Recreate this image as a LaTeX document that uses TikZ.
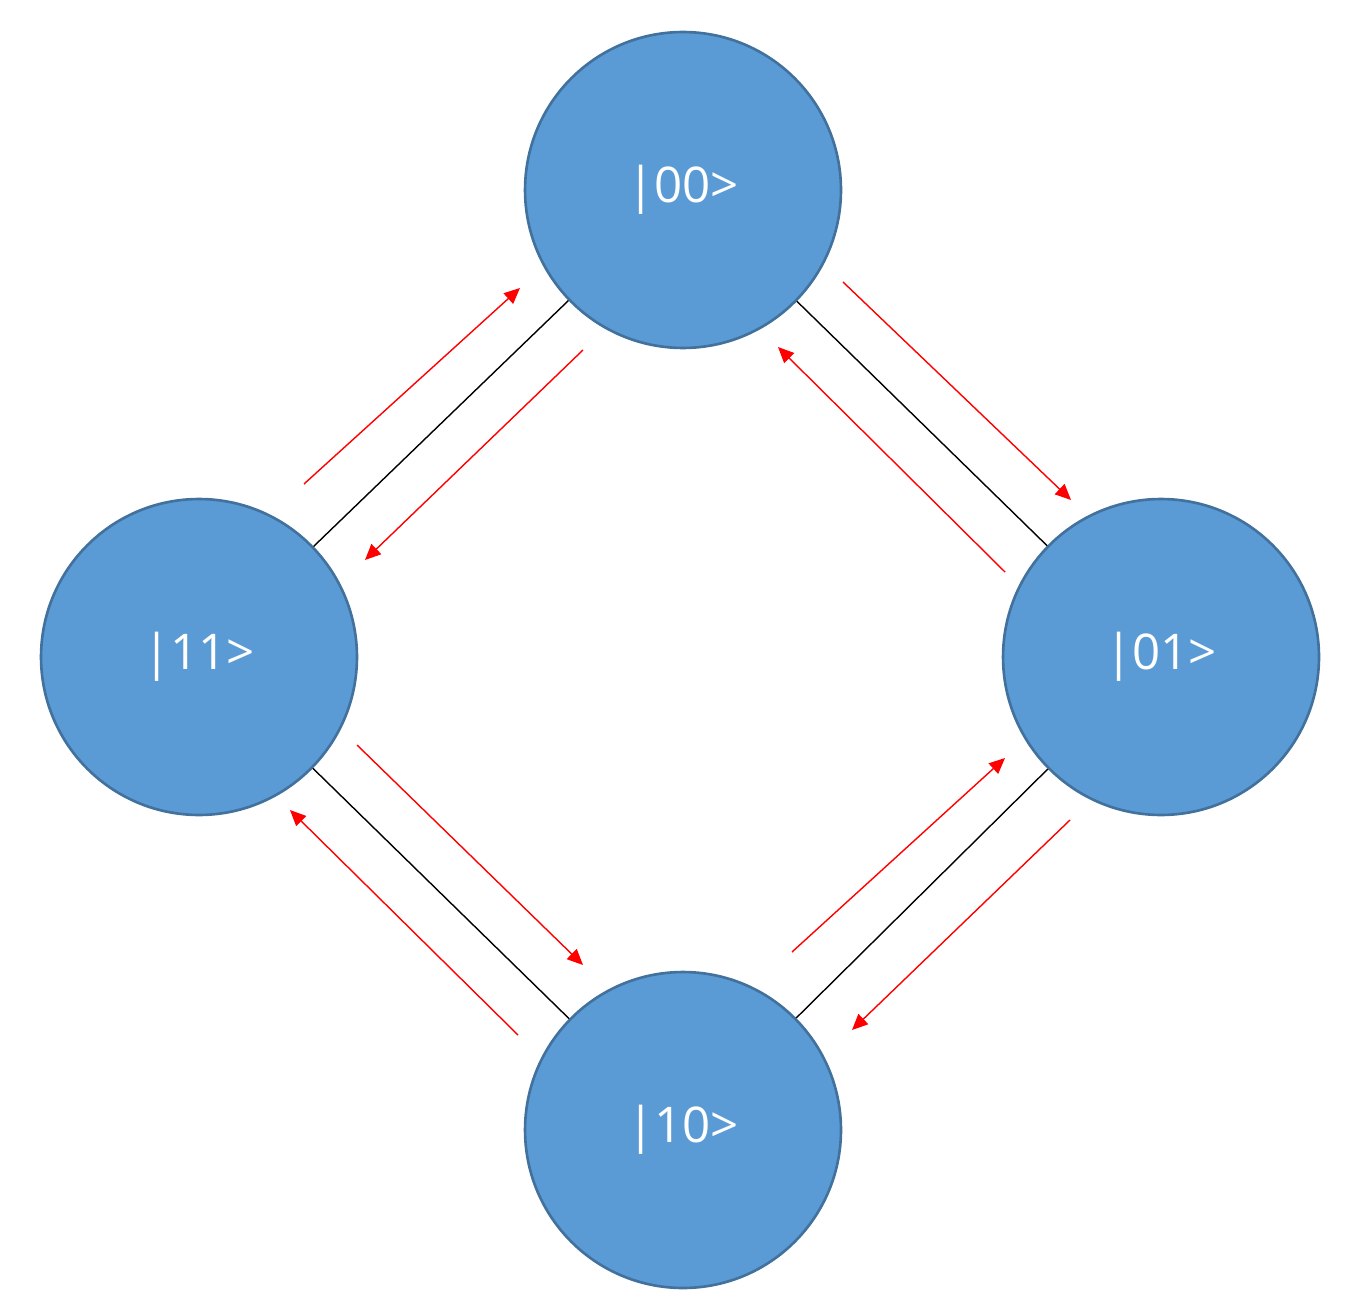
\documentclass[tikz,border=0pt]{standalone}
\usepackage{fontspec}
\setmainfont{Open Sans}
\usetikzlibrary{arrows.meta}
\definecolor{fillb}{HTML}{5B9BD5}
\definecolor{edgeb}{HTML}{41719C}
\tikzset{
  state/.style={circle, fill=fillb, draw=edgeb, line width=1.5pt, minimum size=6.32cm, inner sep=0pt, text=white, font=\fontsize{28}{30}\selectfont},
  link/.style={draw=black, line width=0.8pt},
  flow/.style={draw=red, line width=0.8pt, -{Triangle[length=9pt,width=8pt]}}
}
\begin{document}
\begin{tikzpicture}[x=0.02cm,y=-0.02cm]
\useasboundingbox (0,0) rectangle (1358,1314);
\node[state] (s00) at (683,190) {|00>};
\node[state] (s11) at (199,657) {|11>};
\node[state] (s01) at (1161,657) {|01>};
\node[state] (s10) at (683,1130) {|10>};
\draw[link] (s00) -- (s11);
\draw[link] (s00) -- (s01);
\draw[link] (s11) -- (s10);
\draw[link] (s01) -- (s10);
\coordinate (a1) at (304,484); \coordinate (b1) at (520,288);
\coordinate (a2) at (583,350); \coordinate (b2) at (365,560);
\coordinate (a3) at (843,282); \coordinate (b3) at (1071,500);
\coordinate (a4) at (1005,572); \coordinate (b4) at (778,347);
\coordinate (a5) at (357,745); \coordinate (b5) at (583,965);
\coordinate (a6) at (518,1035); \coordinate (b6) at (290,810);
\coordinate (a7) at (792,952); \coordinate (b7) at (1005,758);
\coordinate (a8) at (1070,820); \coordinate (b8) at (852,1030);
\foreach \k in {1,...,8} {\draw[flow] (a\k) -- (b\k);}
\end{tikzpicture}
\end{document}
